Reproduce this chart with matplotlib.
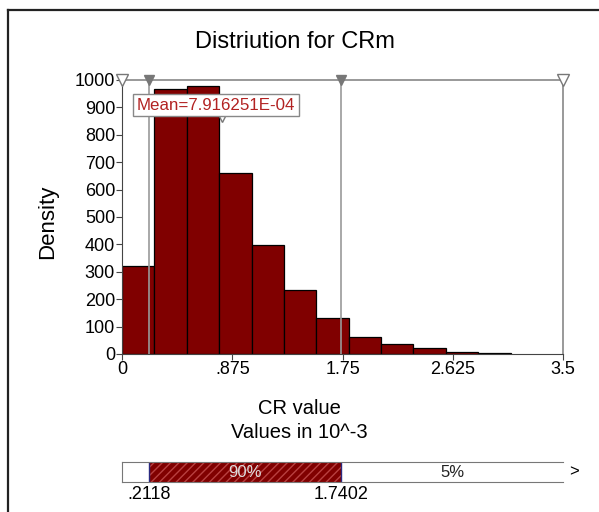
import numpy as np
import matplotlib
matplotlib.use("Agg")
import matplotlib.pyplot as plt
from matplotlib.lines import Line2D

plt.rcParams['font.family'] = ['Liberation Sans', 'DejaVu Sans']
plt.rcParams['hatch.color'] = '#b84040'
plt.rcParams['hatch.linewidth'] = 1.0

# ***** datos *****
bin_edges = [0.0, 0.257, 0.514, 0.771, 1.028, 1.285, 1.542, 1.799,
             2.056, 2.313, 2.570, 2.827, 3.084]
density = [322, 966, 978, 659, 398, 234, 130, 63, 36, 23, 6, 3]
x_ticks = [0, 0.875, 1.75, 2.625, 3.5]
x_ticklabels = ["0", ".875", "1.75", "2.625", "3.5"]
y_ticks = list(range(0, 1001, 100))
x_min, x_max = 0.0, 3.5
p5, p95 = 0.2118, 1.7402
mean_val = 0.7916251
mean_text = "Mean=7.916251E-04"
pct_mid = "90%"
pct_right = "5%"

# ***** figura *****
fig = plt.figure(figsize=(5.99, 5.12), dpi=100)
# marco (solo izquierda y arriba visibles)
fig.add_artist(Line2D([0.014, 0.014], [0.0, 0.981], transform=fig.transFigure,
                      color="#222222", linewidth=1.6))
fig.add_artist(Line2D([0.014, 1.0], [0.981, 0.981], transform=fig.transFigure,
                      color="#222222", linewidth=1.6))

ax = fig.add_axes([0.2037, 0.3086, 0.7362, 0.5352])
widths = np.diff(bin_edges)
ax.bar(bin_edges[:-1], density, width=widths, align="edge",
       color="#800000", edgecolor="black", linewidth=0.9, zorder=2)

# lineas de percentiles
for xv in (p5, p95):
    ax.axvline(xv, color="#999999", linewidth=1.2, zorder=3)
ax.set_xlim(x_min, x_max)
ax.set_ylim(0, 1000)
ax.set_xticks(x_ticks)
ax.set_xticklabels(x_ticklabels)
ax.set_yticks(y_ticks)
ax.tick_params(labelsize=13, length=4, pad=1, color="#444444")
for s in ("left", "bottom"):
    ax.spines[s].set_color("#444444")
for s in ("top", "right"):
    ax.spines[s].set_color("#888888")
    ax.spines[s].set_linewidth(1.2)

# triangulos
ax.plot([x_min, x_max], [1000, 1000], linestyle="none", marker="v", markersize=8,
        markerfacecolor="white", markeredgecolor="#777777", clip_on=False, zorder=5)
ax.plot([p5, p95], [1000, 1000], linestyle="none", marker="v", markersize=7,
        color="#777777", clip_on=False, zorder=5)
ax.plot([mean_val], [862], linestyle="none", marker="v", markersize=6,
        markerfacecolor="white", markeredgecolor="#777777", zorder=6)
ax.text(0.115, 908, mean_text, color="#b22222", fontsize=12.2, va="center", ha="left",
        bbox=dict(boxstyle="square,pad=0.22", facecolor="white", edgecolor="#888888"),
        zorder=7)

fig.text(0.4925, 1 - 42 / 512, "Distriution for CRm", fontsize=17, ha="center", va="center")
fig.text(0.079, 0.5664, "Density", fontsize=16, rotation=90, ha="center", va="center")
fig.text(0.5, 1 - 408 / 512, "CR value", fontsize=14.5, ha="center", va="center")
fig.text(0.5, 1 - 433 / 512, "Values in 10^-3", fontsize=14.5, ha="center", va="center")

# ***** barra de rangos *****
bx = fig.add_axes([0.2037, 0.0586, 0.7362, 0.039])
bx.set_xlim(x_min, x_max)
bx.set_ylim(0, 1)
bx.barh(0.5, p95 - p5, left=p5, height=1, color="#800000", edgecolor="#b84040",
        hatch="////", linewidth=0)
for xv in (p5, p95):
    bx.axvline(xv, color="#2a2a80", linewidth=1.0)
bx.set_xticks([])
bx.set_yticks([])
bx.spines["right"].set_visible(False)
for s in ("top", "bottom", "left"):
    bx.spines[s].set_color("#777777")
bx.text((p5 + p95) / 2, 0.5, pct_mid, color="#dddddd", fontsize=12, ha="center", va="center")
bx.text((p95 + x_max) / 2, 0.5, pct_right, color="#222222", fontsize=12, ha="center", va="center")
bx.text(x_max + 0.05, 0.5, ">", fontsize=12, ha="left", va="center", clip_on=False)
bx.text(p5, -0.2, ".2118", fontsize=13, ha="center", va="top")
bx.text(p95, -0.2, "1.7402", fontsize=13, ha="center", va="top")

fig.savefig("out.png", dpi=100)
